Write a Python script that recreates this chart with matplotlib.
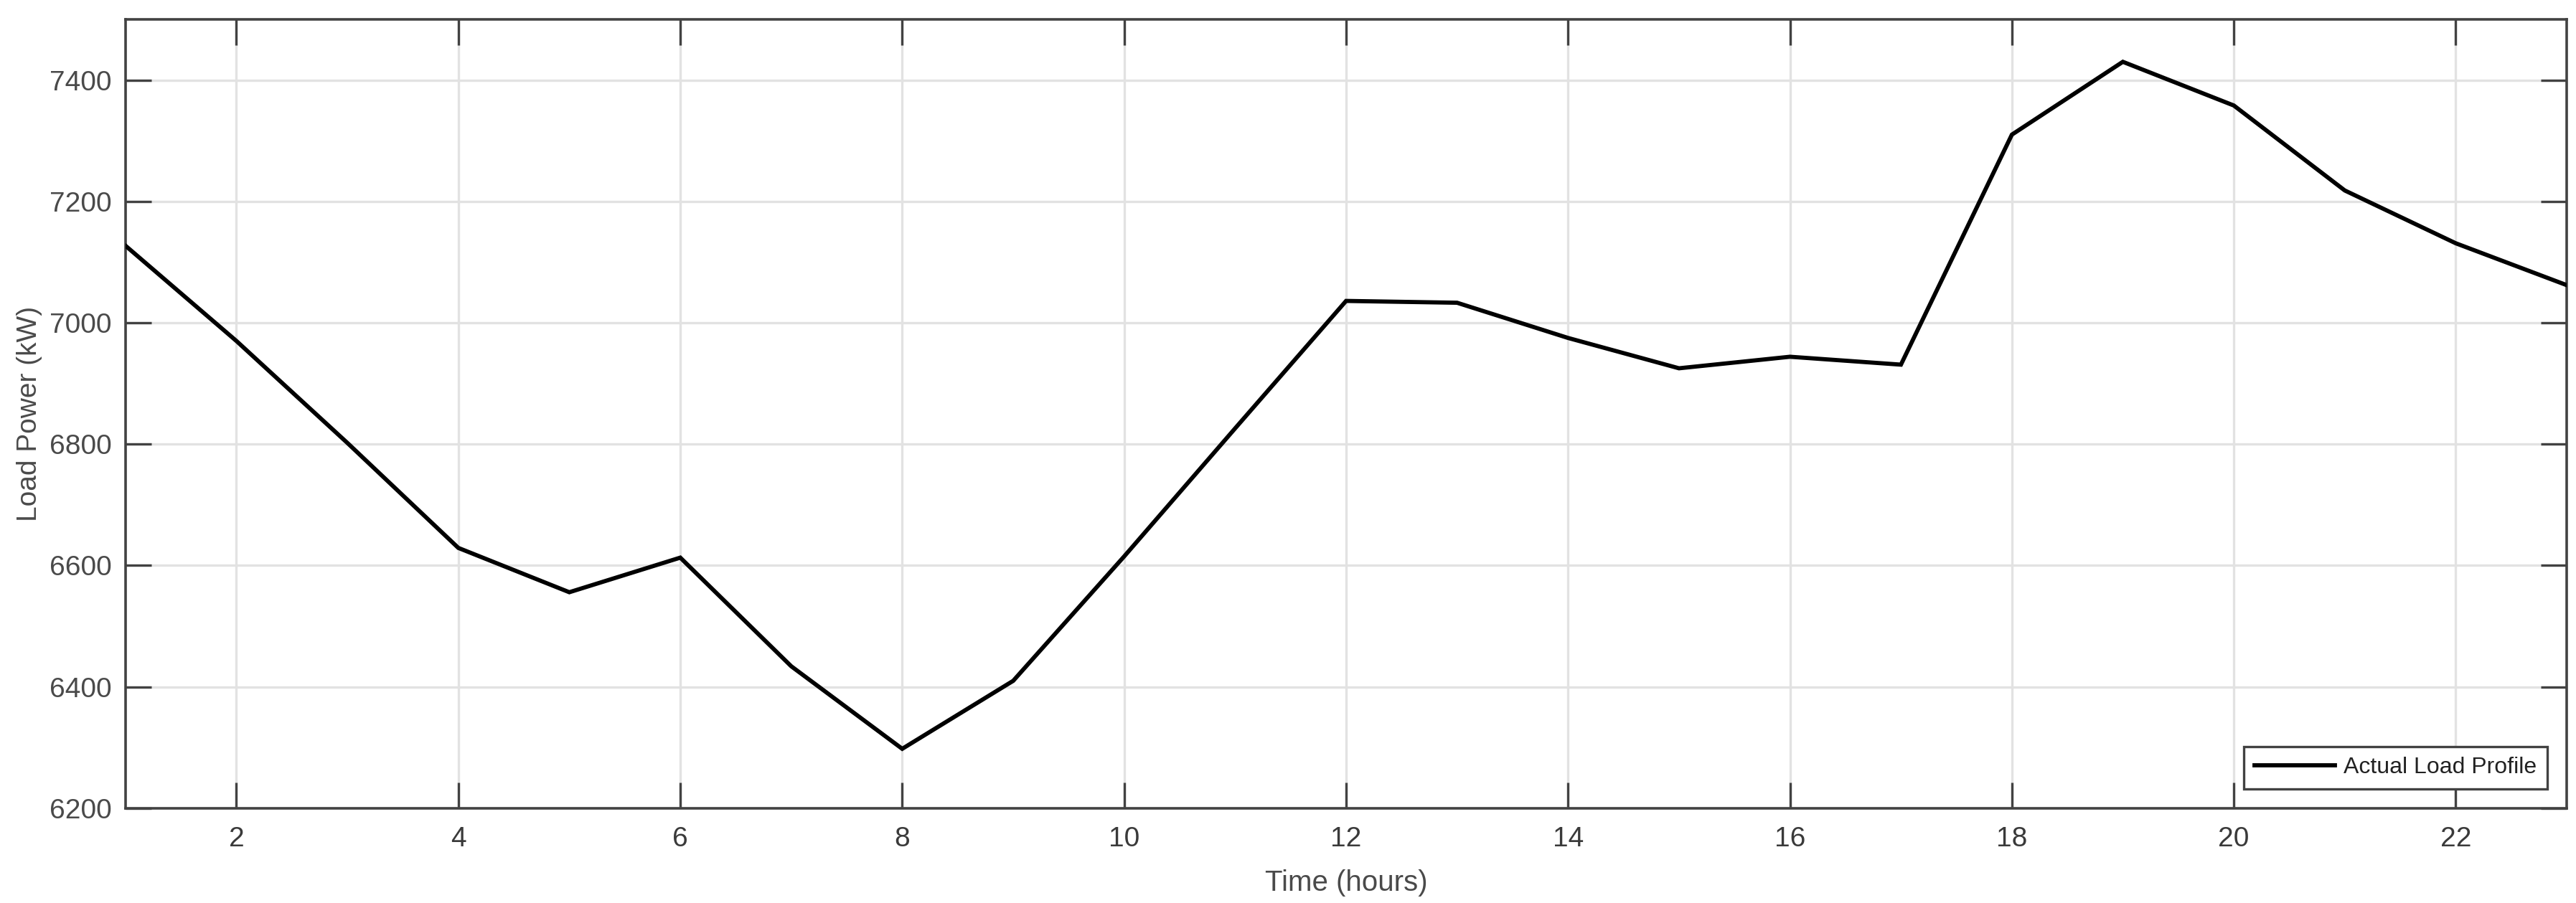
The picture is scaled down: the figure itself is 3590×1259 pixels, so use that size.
import numpy as np
import matplotlib
matplotlib.use("Agg")
import matplotlib.pyplot as plt

plt.rcParams['font.family'] = ['Liberation Sans', 'DejaVu Sans']

# donnees (heures 1 a 23)
hours = np.arange(1, 24)
load_kw = [7127, 6970, 6802, 6629, 6556, 6613, 6434, 6298, 6410, 6615,
           6826, 7036, 7033, 6975, 6925, 6944, 6931, 7310, 7430, 7358,
           7218, 7131, 7062]

x_ticks = [2, 4, 6, 8, 10, 12, 14, 16, 18, 20, 22]
y_ticks = [6200, 6400, 6600, 6800, 7000, 7200, 7400]

axe_col = '#424242'
txt_col = '#4a4a4a'

fig = plt.figure(figsize=(35.9, 12.59), dpi=100)
ax = fig.add_axes([0.0487, 0.1049, 0.9477, 0.8737])

ax.plot(hours, load_kw, color='black', lw=4.2, label='Actual Load Profile',
        solid_joinstyle='miter', zorder=3)

ax.set_xlim(1, 23)
ax.set_ylim(6200, 7500)
ax.set_xticks(x_ticks)
ax.set_yticks(y_ticks)

ax.grid(True, color='#e2e2e2', lw=2.4)
ax.set_axisbelow(True)

for s in ax.spines.values():
    s.set_color(axe_col)
    s.set_linewidth(2.6)

ax.tick_params(axis='both', direction='in', length=26, width=2.4,
               color=axe_col, labelsize=28, labelcolor=txt_col,
               top=True, right=True)
ax.tick_params(axis='y', pad=14)
ax.tick_params(axis='x', pad=18, labelcolor='#3a3a3a')

ax.set_xlabel('Time (hours)', fontsize=29, color=txt_col, labelpad=17)
ax.set_ylabel('Load Power (kW)', fontsize=28, color=txt_col)
ax.yaxis.set_label_coords(-0.034, 0.5)

leg = ax.legend(loc='lower right', fontsize=23, fancybox=False,
                edgecolor=axe_col, framealpha=1, handlelength=3.5,
                handletextpad=0.4, borderpad=0.45, borderaxespad=0.85)
leg.get_frame().set_linewidth(2.4)
for t in leg.get_texts():
    t.set_color('#222222')

fig.savefig('out.png', dpi=100)
